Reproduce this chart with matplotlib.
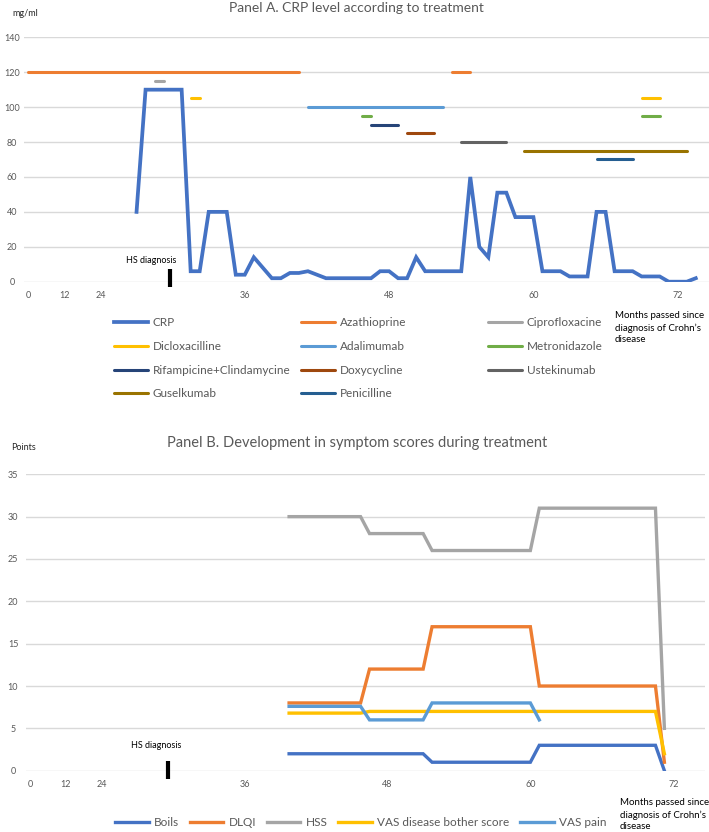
""" CRP level and symptom scores during treatment. """

import numpy as np
import matplotlib
matplotlib.use('Agg')
import matplotlib.pyplot as plt

plt.rcParams['font.family'] = ['Lato', 'DejaVu Sans']

""" Data """

N_CATEGORIES = 76
month_ticks = {0: '0', 4: '12', 8: '24', 24: '36', 40: '48', 56: '60', 72: '72'}

# Panel A - CRP (mg/ml), first value at category 12
crp_start = 12
crp = [40, 110, 110, 110, 110, 110, 6, 6, 40, 40, 40, 4, 4, 14, 8, 2, 2, 5, 5, 6,
       4, 2, 2, 2, 2, 2, 2, 6, 6, 2, 2, 14, 6, 6, 6, 6, 6, 60, 20, 14, 51, 51, 37,
       37, 37, 6, 6, 6, 3, 3, 3, 40, 40, 6, 6, 6, 3, 3, 3, 0, 0, 0, 2]

# Panel A - treatments: name, periods (first, last category), level drawn at
treatment_names = ['Azathioprine', 'Ciprofloxacine', 'Dicloxacilline', 'Adalimumab',
                   'Metronidazole', 'Rifampicine+Clindamycine', 'Doxycycline',
                   'Ustekinumab', 'Guselkumab', 'Penicilline']
treatment_periods = [[(0, 30), (47, 49)], [(14, 15)], [(18, 19), (68, 70)], [(31, 46)],
                     [(37, 38), (68, 70)], [(38, 41)], [(42, 45)], [(48, 53)],
                     [(55, 73)], [(63, 67)]]
treatment_levels = [120, 115, 105, 100, 95, 90, 85, 80, 75, 70]

# Panel B - symptom scores (points), first value at category 29
symptom_start = 29
boils = [2, 2, 2, 2, 2, 2, 2, 2, 2, 2, 2, 2, 2, 2, 2, 2, 1, 1, 1, 1, 1, 1, 1, 1, 1, 1,
         1, 1, 3, 3, 3, 3, 3, 3, 3, 3, 3, 3, 3, 3, 3, 3, 0]
dlqi = [8, 8, 8, 8, 8, 8, 8, 8, 8, 12, 12, 12, 12, 12, 12, 12, 17, 17, 17, 17, 17, 17,
        17, 17, 17, 17, 17, 17, 10, 10, 10, 10, 10, 10, 10, 10, 10, 10, 10, 10, 10, 10, 1]
hss = [30, 30, 30, 30, 30, 30, 30, 30, 30, 28, 28, 28, 28, 28, 28, 28, 26, 26, 26, 26,
       26, 26, 26, 26, 26, 26, 26, 26, 31, 31, 31, 31, 31, 31, 31, 31, 31, 31, 31, 31,
       31, 31, 5]
vas_bother = [6.8, 6.8, 6.8, 6.8, 6.8, 6.8, 6.8, 6.8, 6.8, 7, 7, 7, 7, 7, 7, 7, 7, 7, 7,
              7, 7, 7, 7, 7, 7, 7, 7, 7, 7, 7, 7, 7, 7, 7, 7, 7, 7, 7, 7, 7, 7, 7, 2]
vas_pain = [7.6, 7.6, 7.6, 7.6, 7.6, 7.6, 7.6, 7.6, 7.6, 6, 6, 6, 6, 6, 6, 6, 8, 8, 8,
            8, 8, 8, 8, 8, 8, 8, 8, 8, 6]
symptom_names = ['Boils', 'DLQI', 'HSS', 'VAS disease bother score', 'VAS pain']

""" Styles """

GRID = '#D9D9D9'
TEXT = '#595959'
crp_color = '#4472C4'
treatment_colors = ['#ED7D31', '#A5A5A5', '#FFC000', '#5B9BD5', '#70AD47',
                    '#264478', '#9E480E', '#636363', '#997300', '#255E91']
symptom_colors = ['#4472C4', '#ED7D31', '#A5A5A5', '#FFC000', '#5B9BD5']

W, H = 709, 832

""" Functions """


def series_from(start, values):
    """ Places values on the category axis, starting at a category. """
    y = np.full(N_CATEGORIES, np.nan)
    y[start:start + len(values)] = values
    return y


def series_from_periods(periods, level):
    """ Builds a series that is only present during the given periods. """
    y = np.full(N_CATEGORIES, np.nan)
    for first, last in periods:
        y[first:last + 1] = level
    return y


def style_axes(ax, ymax, ystep, ypad):
    ax.set_xlim(-0.5, N_CATEGORIES - 0.5)
    ax.set_ylim(0, ymax)
    ax.set_yticks(np.arange(0, ymax + 1, ystep))
    ax.set_xticks(list(month_ticks.keys()))
    ax.set_xticklabels(list(month_ticks.values()))
    ax.grid(axis='y', color=GRID, lw=1)
    ax.set_axisbelow(True)
    for s in ax.spines.values():
        s.set_visible(False)
    ax.tick_params(axis='both', length=0, labelsize=6.5, labelcolor=TEXT)
    ax.tick_params(axis='x', pad=7)
    ax.tick_params(axis='y', pad=ypad)
    plt.setp(ax.get_yticklabels(), ha='center')


""" Main program """

fig = plt.figure(figsize=(W / 100, H / 100), dpi=100)
x = np.arange(N_CATEGORIES)

# Panel A
ax1 = fig.add_axes([23.8 / W, 1 - 281.7 / H, 685.5 / W, 244.4 / H])
style_axes(ax1, 140, 20, 8.5)
handles = []
h, = ax1.plot(x, series_from(crp_start, crp), color=crp_color, lw=2.7,
              solid_joinstyle='miter', label='CRP')
handles.append(h)
for name, periods, level, color in zip(treatment_names, treatment_periods,
                                       treatment_levels, treatment_colors):
    h, = ax1.plot(x, series_from_periods(periods, level), color=color, lw=2.2,
                  solid_capstyle='round', label=name)
    handles.append(h)

ax1.plot([15.7, 15.7], [7, -3], color='black', lw=3, solid_capstyle='butt', clip_on=False)
ax1.text(13.6, 12.4, 'HS diagnosis', fontsize=6.5, color='black', ha='center', va='center')

fig.text(356 / W, 1 - 7.5 / H, 'Panel A. CRP level according to treatment',
         fontsize=10, color=TEXT, ha='center', va='center')
fig.text(12 / W, 1 - 13 / H, 'mg/ml', fontsize=6.5, color='#262626', ha='left', va='center')
fig.text(615 / W, 1 - 327.7 / H, 'Months passed since\ndiagnosis of Crohn\u2019s\ndisease',
         fontsize=7, color='black', ha='left', va='center', linespacing=1.42)

# legend in three equal columns, filled row by row
col_x = [114, 301, 488]
for i, cx in enumerate(col_x):
    col_handles = handles[i::3]
    fig.legend(handles=col_handles, labels=[hh.get_label() for hh in col_handles],
               loc='upper left', bbox_to_anchor=(cx / W, 1 - 317.4 / H),
               frameon=False, borderpad=0, borderaxespad=0, fontsize=8.5,
               handlelength=2.85, handletextpad=0.45, labelspacing=1.07,
               labelcolor=TEXT)

# Panel B
ax2 = fig.add_axes([25.5 / W, 1 - 770.7 / H, 679.1 / W, 296.4 / H])
style_axes(ax2, 35, 5, 9)
for name, values, color in zip(symptom_names, [boils, dlqi, hss, vas_bother, vas_pain],
                               symptom_colors):
    ax2.plot(x, series_from(symptom_start, values), color=color, lw=2.4,
             solid_joinstyle='miter', label=name)

ax2.plot([15.4, 15.4], [1.2, -1], color='black', lw=3, solid_capstyle='butt', clip_on=False)
ax2.text(14.1, 3.0, 'HS diagnosis', fontsize=6.5, color='black', ha='center', va='center')

fig.text(357 / W, 1 - 442.5 / H, 'Panel B. Development in symptom scores during treatment',
         fontsize=10.5, color=TEXT, ha='center', va='center')
fig.text(11 / W, 1 - 447 / H, 'Points', fontsize=6.5, color='#262626', ha='left', va='center')
fig.text(620 / W, 1 - 814.7 / H, 'Months passed since\ndiagnosis of Crohn\u2019s\ndisease',
         fontsize=7, color='black', ha='left', va='center', linespacing=1.42)

ax2.legend(loc='center left', bbox_to_anchor=(115 / W, 1 - 822.3 / H),
           bbox_transform=fig.transFigure, ncol=5, frameon=False, borderpad=0,
           borderaxespad=0, fontsize=8.5, handlelength=2.85, handletextpad=0.45,
           columnspacing=0.9, labelcolor=TEXT)

fig.savefig('out.png', dpi=100)
